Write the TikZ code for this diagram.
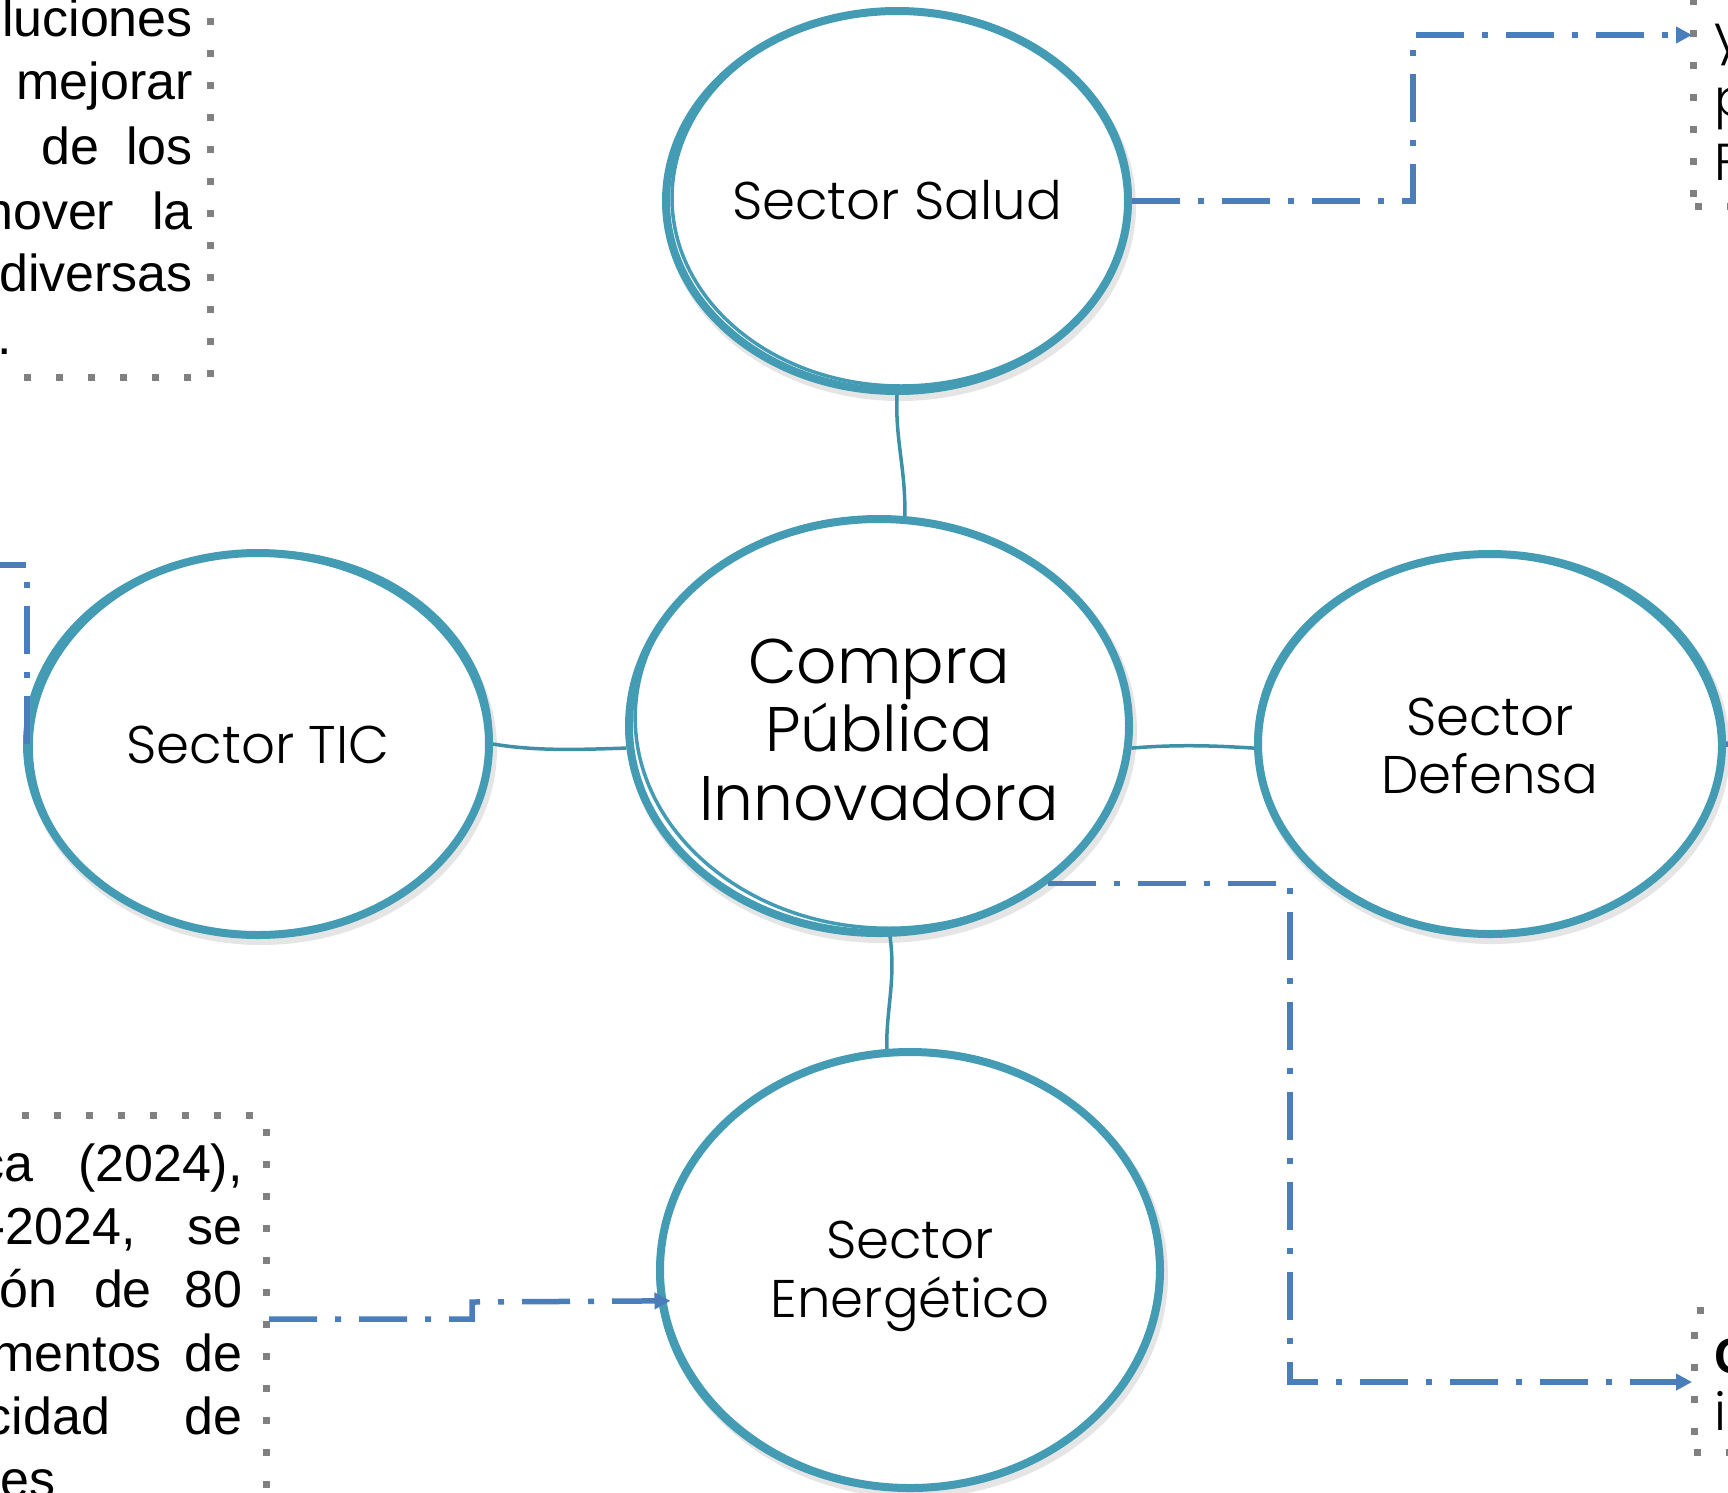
\documentclass[tikz,border=0pt]{standalone}
\usepackage{fontspec}
\setmainfont{Liberation Sans}
\newfontfamily\gothic{Poppins Light}
\usetikzlibrary{shapes.geometric,arrows.meta,calc}
\definecolor{tealc}{RGB}{67,156,180}
\definecolor{tealconn}{RGB}{60,145,166}
\definecolor{arrblue}{RGB}{74,126,187}
\definecolor{dotgray}{RGB}{128,128,128}
\tikzset{
 bubble/.style={ellipse, draw=tealc, line width=8pt, fill=white, inner sep=0pt},
 sketch/.style={draw=tealc, line width=3.5pt},
 shad/.style={draw=black, opacity=0.10, line width=10pt},
 conn/.style={draw=tealconn, line width=3.5pt},
 dashdot/.style={draw=arrblue, line width=5.5pt, dash pattern=on 48pt off 18pt on 6pt off 18pt},
 arr/.style={dashdot, -{Triangle[length=16pt,width=16pt]}},
 dotline/.style={draw=dotgray, line width=7pt, dash pattern=on 7pt off 25pt},
 lab/.style={font=\gothic\fontsize{53}{58}\selectfont, inner sep=0pt, anchor=base},
 biglab/.style={font=\gothic\fontsize{63}{68}\selectfont, inner sep=0pt, anchor=base},
 frag/.style={font=\gothic\fontsize{52}{64}\selectfont, inner sep=0pt, anchor=base west},
 body/.style={font=\fontsize{52}{64}\selectfont, inner sep=0pt, anchor=base east},
}
\begin{document}
\begin{tikzpicture}[x=1pt,y=-1pt]
\useasboundingbox (0,0) rectangle (1728,1492);
\clip (0,0) rectangle (1728,1492);
\fill[white] (0,0) rectangle (1728,1492);

% shadows
\draw[shad] (900,206) ellipse [x radius=231, y radius=190];
\draw[shad] (882,731) ellipse [x radius=250, y radius=207];
\draw[shad] (261,749) ellipse [x radius=231, y radius=191];
\draw[shad] (1493,749) ellipse [x radius=232, y radius=190];
\draw[shad] (913,1275) ellipse [x radius=250, y radius=218];

% bubbles
\node[bubble, minimum width=462pt, minimum height=380pt] (salud) at (897,201) {};
\node[bubble, minimum width=500pt, minimum height=414pt] (compra) at (879,726) {};
\node[bubble, minimum width=462pt, minimum height=382pt] (tic) at (258,744) {};
\node[bubble, minimum width=464pt, minimum height=380pt] (defensa) at (1490,744) {};
\node[bubble, minimum width=500pt, minimum height=436pt] (ener) at (910,1270) {};

% sketchy second strokes
\draw[sketch] (901,198) ellipse [x radius=229, y radius=188];
\draw[sketch] (882,723) ellipse [x radius=247, y radius=205, rotate=-4];
\draw[sketch] (261,743) ellipse [x radius=230, y radius=191, rotate=3];
\draw[sketch] (1488,745) ellipse [x radius=232, y radius=190, rotate=-3];
\draw[sketch] (908,1271) ellipse [x radius=250, y radius=218, rotate=2];

% labels
\node[lab] (tsalud) at (897,219) {Sector Salud};
\node[lab] (ttic) at (258,763) {Sector TIC};
\node[biglab] (tc1) at (879,683) {Compra};
\node[biglab] (tc2) at (879,751) {Pública};
\node[biglab] (tc3) at (879,820) {Innovadora};
\node[lab] (td1) at (1490,735) {Sector};
\node[lab] (td2) at (1490,793) {Defensa};
\node[lab] (te1) at (910,1258) {Sector};
\node[lab] (te2) at (910,1317) {Energético};

% teal connectors
\draw[conn] (salud.south) .. controls (895,440) and (906,470) .. (compra.83);
\draw[conn] (tic.east) .. controls (540,752) and (590,749) .. (compra.185);
\draw[conn] (compra.-5) .. controls (1180,744) and (1220,746) .. (defensa.181);
\draw[conn] (compra.-87) .. controls (896,980) and (886,1010) .. (ener.96);

% dotted text boxes (partly outside the picture)
\draw[dotline] (210,376.5) -- (210,-20);
\draw[dotline] (190.5,377) -- (-20,377);
\draw[dotline] (252.5,1115) -- (-20,1115);
\draw[dotline] (266,1128.5) -- (266,1520);
\draw[dotline] (1693,196.5) -- (1693,-20);
\draw[dotline] (1694.5,206) -- (1760,206);
\draw[dotline] (1696.5,1310) -- (1760,1310);
\draw[dotline] (1694,1331.5) -- (1694,1450);
\draw[dotline] (1693.5,1452) -- (1760,1452);

\coordinate (trin) at (1692,35);
\coordinate (brin) at (1692,1382);
\coordinate (blout) at (269,1319);
\coordinate (leftout) at (-10,565);
\coordinate (rightout) at (1745,745);

% blue dash-dot connectors
\draw[arr] (salud.east) -| (1413,35) -- (trin);
\draw[arr] (compra.-43) -| (1290,1382) -- (brin);
\draw[arr, shorten >=-12pt] (blout) -| (472,1302) -- (ener.187);
\draw[dashdot] ([xshift=4pt]tic.west) |- (leftout);
\draw[dashdot] (defensa.east) -- (rightout);

% text fragments, top left
\node[body] (a1) at (193,36) {luciones};
\node[body] (a2) at (193,99) {mejorar};
\node[body] (a3) at (193,164) {de\hspace{27pt}los};
\node[body] (a4) at (193,229) {nover\hspace{38pt}la};
\node[body] (a5) at (193,291) {diversas};
\node[body, anchor=base west] (a6) at (-3,354) {.};

% text fragments, bottom left
\node[body] (b1) at (243,1181) {ca\hspace{45pt}(2024),};
\node[body] (b2) at (243,1244) {-2024,\hspace{52pt}se};
\node[body] (b3) at (243,1307) {ón\hspace{37pt}de\hspace{33pt}80};
\node[body] (b4) at (243,1371) {mentos\hspace{23pt}de};
\node[body] (b5) at (243,1434) {cidad\hspace{75pt}de};
\node[body] (b6) at (56,1497) {es};

% text fragments, right
\node[frag] (c1) at (1714,52) {y};
\node[frag] (c2) at (1714,116) {p};
\node[frag] (c3) at (1714,180) {F};
\node[frag, font=\bfseries\fontsize{50}{60}\selectfont] (d1) at (1714,1373) {C};
\node[frag] (d2) at (1714,1430) {i};
\end{tikzpicture}
\end{document}
